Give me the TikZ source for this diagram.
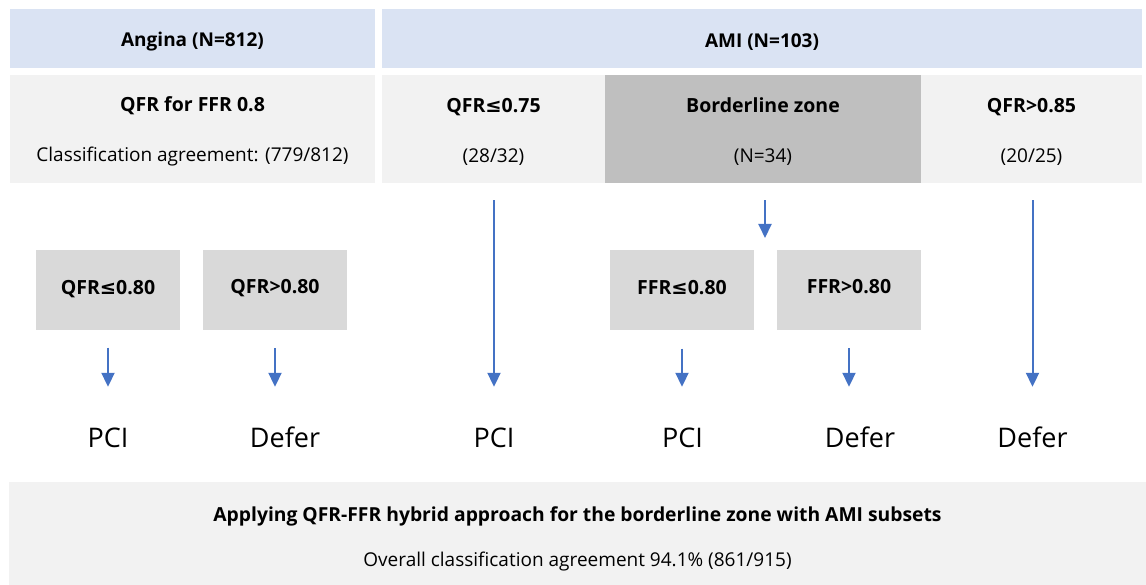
\documentclass[tikz,border=0pt]{standalone}
\usepackage{fontspec}
\setmainfont{Open Sans}[BoldFont={Open Sans Bold}]
\newfontfamily\symfont{DejaVu Sans}[BoldFont={DejaVu Sans Bold}]
\newcommand\leqsign{{\symfont ≤}}
\usetikzlibrary{arrows.meta}
\definecolor{hdrblue}{HTML}{DAE3F3}
\definecolor{litegray}{HTML}{F2F2F2}
\definecolor{midgray}{HTML}{D9D9D9}
\definecolor{darkgray}{HTML}{BFBFBF}
\definecolor{arrblue}{HTML}{4472C4}
\newcommand\boxtitle{\rule{0pt}{20pt}\fontsize{19.5}{50}\selectfont\bfseries}

\begin{document}
\begin{tikzpicture}[x=1pt,y=-1pt,
  hdr/.style={fill=hdrblue, inner sep=0pt, minimum height=59, text height=20, font=\fontsize{19}{20}\selectfont\bfseries},
  twoline/.style={inner sep=0pt, minimum height=108, align=center, font=\fontsize{19}{50}\selectfont},
  lite/.style={twoline, fill=litegray},
  dark/.style={twoline, fill=darkgray},
  choice/.style={fill=midgray, inner sep=0pt, minimum width=144, minimum height=80, text depth=7, font=\fontsize{19.5}{20}\selectfont\bfseries},
  outcome/.style={inner sep=0pt, text height=20, text depth=0, font=\fontsize{27}{30}\selectfont},
  flow/.style={draw=arrblue, line width=2pt, -{Triangle[length=14pt,width=13pt]}, shorten <=17pt, shorten >=40pt}]
\useasboundingbox (0,0) rectangle (1146,585);

%Group headers
\node[hdr, minimum width=365] (angina) at (192.5,38.5) {Angina (N=812)};
\node[hdr, minimum width=760] (ami) at (762,39) {AMI (N=103)};

%Threshold row
\node[lite, minimum width=365] (qfrffr) at (192.5,129) {{\boxtitle QFR for FFR 0.8}\\Classification agreement: (779/812)};
\node[lite, minimum width=223] (qfrlow) at (493.5,129) {{\boxtitle QFR\leqsign0.75}\\(28/32)};
\node[dark, minimum width=316] (border) at (763,129) {{\boxtitle Borderline zone}\\(N=34)};
\node[lite, minimum width=221] (qfrhigh) at (1031.5,129) {{\boxtitle QFR>0.85}\\(20/25)};

%Split boxes
\node[choice] (aqlow) at (108,290.5) {QFR\leqsign0.80};
\node[choice] (aqhigh) at (275,290) {QFR>0.80};
\node[choice] (fflow) at (682,290.5) {FFR\leqsign0.80};
\node[choice] (ffhigh) at (849,290) {FFR>0.80};
\coordinate (split) at (765,238);

%Decisions
\node[outcome] (pci1) at (108,437) {PCI};
\node[outcome] (defer1) at (285,437) {Defer};
\node[outcome] (pci2) at (494,437) {PCI};
\node[outcome] (pci3) at (682.5,437) {PCI};
\node[outcome] (defer2) at (860,437) {Defer};
\node[outcome] (defer3) at (1032.5,437) {Defer};

%Arrows
\draw[flow] (aqlow) -- (aqlow |- pci1.north);
\draw[flow, shorten <=18pt] (aqhigh.south) -- (aqhigh |- defer1.north);
\draw[flow] (qfrlow.south -| pci2) -- (pci2.north);
\draw[flow, shorten >=0pt] (border.south -| split) -- (split);
\draw[flow, shorten <=18pt] (fflow.south) -- (fflow |- pci3.north);
\draw[flow, shorten <=18pt] (ffhigh.south) -- (ffhigh |- defer2.north);
\draw[flow] (qfrhigh.south -| defer3) -- (defer3.north);

%Summary
\node[lite, minimum width=1137, minimum height=103, font=\fontsize{19}{45}\selectfont] (hybrid) at (577.5,533.5) {{\rule{0pt}{26pt}\fontsize{19.3}{45}\selectfont\bfseries Applying QFR-FFR hybrid approach for the borderline zone with AMI subsets}\\Overall classification agreement 94.1\% (861/915)};

\end{tikzpicture}
\end{document}
